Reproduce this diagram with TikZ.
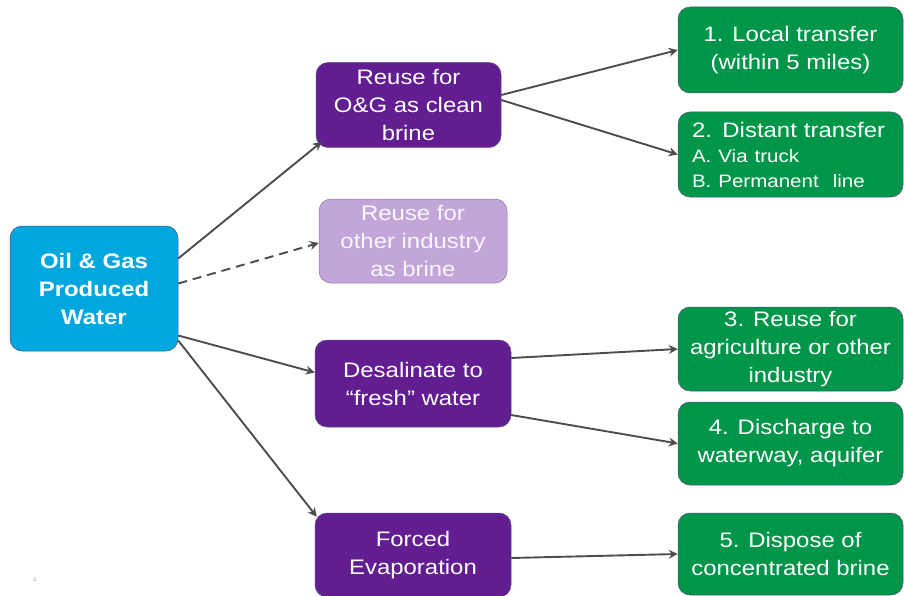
\documentclass[tikz,border=0pt]{standalone}
\usepackage{fontspec}
\setmainfont{Liberation Sans}[FakeStretch=1.14]
\usetikzlibrary{arrows.meta}
\definecolor{oblue}{HTML}{00A6DE}
\definecolor{opurple}{HTML}{621E91}
\definecolor{olilac}{HTML}{C2A6D9}
\definecolor{ogreen}{HTML}{00964A}
\definecolor{oedge}{HTML}{5E4A86}
\definecolor{oarrow}{HTML}{4D4D4D}
\begin{document}
\begin{tikzpicture}[x=1pt,y=-1pt,
  box/.style={rounded corners=12pt, draw=oedge, line width=0.5pt, text=white,
    align=center, inner sep=0pt, font=\fontsize{21}{28}\selectfont},
  srcbox/.style={box, fill=oblue, font=\bfseries\fontsize{21}{28}\selectfont},
  midbox/.style={box, fill=opurple},
  lilacbox/.style={box, fill=olilac, draw=olilac!70!black, text=white!92!olilac},
  outbox/.style={box, fill=ogreen, minimum width=225pt},
  flow/.style={draw=oarrow, line width=1.9pt, -{Stealth[length=9pt,width=9pt,inset=3pt]}},
  maybe/.style={flow, dash pattern=on 9pt off 6pt}
]
\useasboundingbox (0,0) rectangle (904,596);

\node[srcbox, minimum width=168pt, minimum height=125pt] (src) at (94,288.5)
  {Oil \& Gas\\Produced\\Water};

\node[midbox, minimum width=185pt, minimum height=85pt] (og) at (408.5,105)
  {Reuse for\\O\&G as clean\\brine};
\node[lilacbox, minimum width=188pt, minimum height=84pt] (oth) at (413,241)
  {Reuse for\\other industry\\as brine};
\node[midbox, minimum width=196pt, minimum height=87pt] (des) at (413,383.5)
  {Desalinate to\\“fresh” water};
\node[midbox, minimum width=196pt, minimum height=84pt] (evp) at (413,555)
  {Forced\\Evaporation};

\node[outbox, minimum height=86pt] (g1) at (790.5,50)
  {1. Local transfer\\(within 5 miles)};
\node[outbox, minimum height=85pt, text width=197pt, inner xsep=14pt, align=left] (g2) at (790.5,154.5)
  {2. Distant transfer\\[-3pt]{\fontsize{18}{25}\selectfont A. Via truck}\\[-3pt]{\fontsize{18}{25}\selectfont B. Permanent\ \ line}};
\node[outbox, minimum height=84pt] (g3) at (790.5,349)
  {3. Reuse for\\agriculture or other\\industry};
\node[outbox, minimum height=83pt] (g4) at (790.5,443.5)
  {4. Discharge to\\waterway, aquifer};
\node[outbox, minimum height=82pt] (g5) at (790.5,554)
  {5. Dispose of\\concentrated brine};

\node[text=black!45, font=\fontsize{5}{6}\selectfont, inner sep=0pt] (pg) at (35,580) {1};

\draw[flow] ([yshift=30pt]src.east) -- ([xshift=6pt,yshift=6pt]og.south west);
\draw[maybe] ([yshift=5pt]src.east) -- ([yshift=-2pt]oth.west);
\draw[flow] ([yshift=-47pt]src.east) -- ([yshift=11pt]des.west);
\draw[flow] ([yshift=-52pt]src.east) -- ([xshift=2pt,yshift=-4pt]evp.north west);

\draw[flow] ([yshift=10pt]og.east) -- (g1.west);
\draw[flow] ([yshift=5pt]og.east) -- (g2.west);
\draw[flow] ([yshift=25.5pt]des.east) -- (g3.west);
\draw[flow] ([yshift=-31.5pt]des.east) -- (g4.west);
\draw[flow] ([yshift=-3pt]evp.east) -- (g5.west);
\end{tikzpicture}
\end{document}
